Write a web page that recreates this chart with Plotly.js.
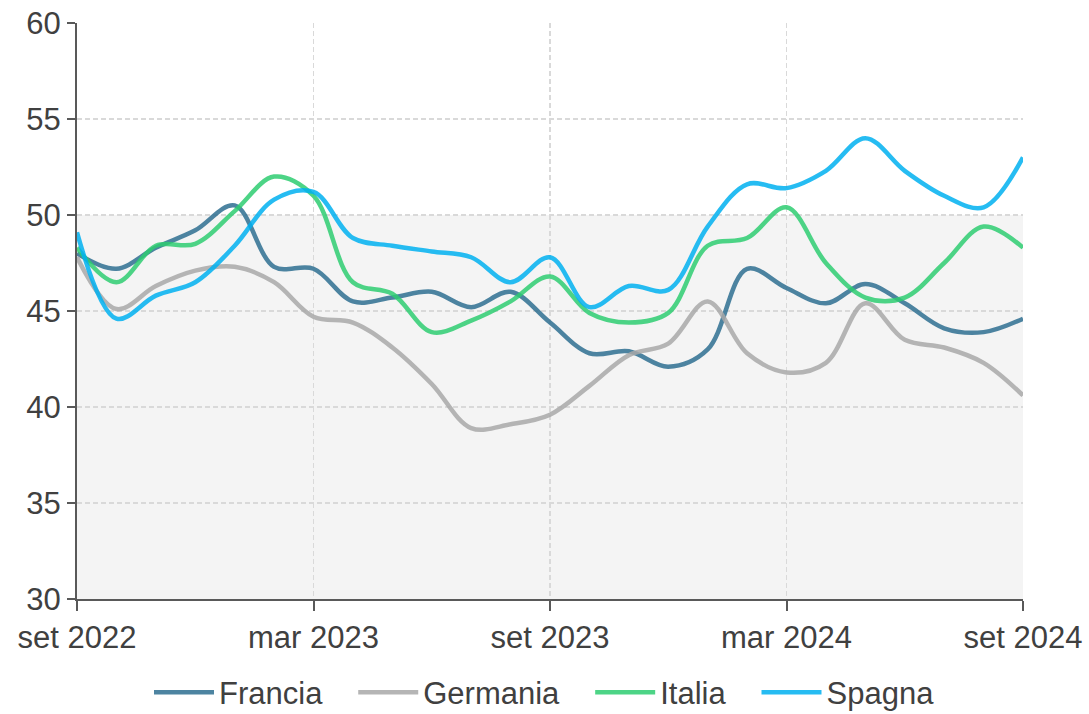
<!DOCTYPE html>
<html>
<head>
<meta charset="utf-8">
<script src="https://cdn.plot.ly/plotly-3.0.1.min.js"></script>
<style>
  html, body { margin: 0; padding: 0; background: #fff; }
  #chart { width: 1089px; height: 714px; }
</style>
</head>
<body>
<div id="chart"></div>
<script>
// mesi da set 2022 a set 2024
var mesi = ['set 2022','ott 2022','nov 2022','dic 2022','gen 2023','feb 2023','mar 2023',
            'apr 2023','mag 2023','giu 2023','lug 2023','ago 2023','set 2023','ott 2023',
            'nov 2023','dic 2023','gen 2024','feb 2024','mar 2024','apr 2024','mag 2024',
            'giu 2024','lug 2024','ago 2024','set 2024']
var tickMesi = ['set 2022','mar 2023','set 2023','mar 2024','set 2024']

var francia  = [48.0,47.2,48.3,49.2,50.5,47.3,47.2,45.5,45.7,46.0,45.2,46.0,44.4,
                42.8,42.9,42.1,43.0,47.2,46.2,45.4,46.4,45.4,44.1,43.9,44.6]
var germania = [47.8,45.1,46.3,47.1,47.3,46.5,44.7,44.4,43.1,41.2,38.9,39.1,39.6,
                41.1,42.7,43.3,45.5,42.8,41.8,42.3,45.4,43.5,43.1,42.3,40.6]
var italia   = [48.3,46.5,48.4,48.5,50.2,52.0,51.0,46.5,45.9,43.9,44.5,45.5,46.8,
                44.9,44.4,44.9,48.4,48.8,50.4,47.5,45.7,45.7,47.5,49.4,48.3]
var spagna   = [49.1,44.6,45.8,46.5,48.4,50.8,51.2,48.8,48.4,48.1,47.8,46.5,47.8,
                45.2,46.3,46.1,49.4,51.6,51.4,52.3,54.0,52.3,51.0,50.4,53.0]

var serie = [
  {nome: 'Francia',  y: francia,  col: '#2E6E90'},
  {nome: 'Germania', y: germania, col: '#A8A8A8'},
  {nome: 'Italia',   y: italia,   col: '#2ECC71'},
  {nome: 'Spagna',   y: spagna,   col: '#00B0F0'}
]

// un po' di spazio in piu tra le voci della legenda
var pad = '\u00a0\u00a0\u00a0'

var data = serie.map(function (s, i) {
  return {
    x: mesi,
    y: s.y,
    name: i < serie.length - 1 ? s.nome + pad : s.nome,
    type: 'scatter',
    mode: 'lines',
    opacity: 0.85,
    line: {color: s.col, width: 4.5, shape: 'spline', smoothing: 1}
  }
})

var fnt = {family: 'Liberation Sans, Arial, sans-serif', size: 31, color: '#404040'}

var layout = {
  width: 1089,
  height: 714,
  margin: {l: 77, r: 66, t: 23, b: 115, autoexpand: false},
  paper_bgcolor: '#ffffff',
  plot_bgcolor: '#ffffff',
  font: fnt,
  showlegend: true,
  legend: {
    orientation: 'h',
    x: 0.5, xanchor: 'center', xref: 'container',
    y: 0.03, yanchor: 'middle', yref: 'container',
    font: fnt,
    itemwidth: 60,
    tracegroupgap: 0
  },
  xaxis: {
    type: 'category',
    range: [0, 24],
    tickmode: 'array',
    tickvals: tickMesi,
    ticktext: tickMesi,
    ticks: 'outside',
    ticklen: 10,
    tickcolor: '#595959',
    tickwidth: 2,
    showline: true,
    linecolor: '#595959',
    linewidth: 2,
    showgrid: true,
    gridcolor: '#d9d9d9',
    griddash: '5px,3px',
    gridwidth: 1.5,
    zeroline: false,
    tickfont: fnt,
    tickangle: 0,
    automargin: false
  },
  yaxis: {
    range: [30, 60],
    dtick: 5,
    ticks: 'outside',
    ticklen: 8,
    tickcolor: '#595959',
    tickwidth: 2,
    showline: true,
    linecolor: '#595959',
    linewidth: 2,
    showgrid: true,
    gridcolor: '#d9d9d9',
    griddash: '5px,3px',
    gridwidth: 1.5,
    zeroline: false,
    tickfont: fnt,
    automargin: false
  },
  shapes: [{
    type: 'rect', layer: 'below',
    xref: 'paper', yref: 'y',
    x0: 0, x1: 1, y0: 30, y1: 50,
    fillcolor: '#f4f4f4', line: {width: 0}
  }]
}

Plotly.newPlot('chart', data, layout, {displayModeBar: false, staticPlot: true})
</script>
</body>
</html>
